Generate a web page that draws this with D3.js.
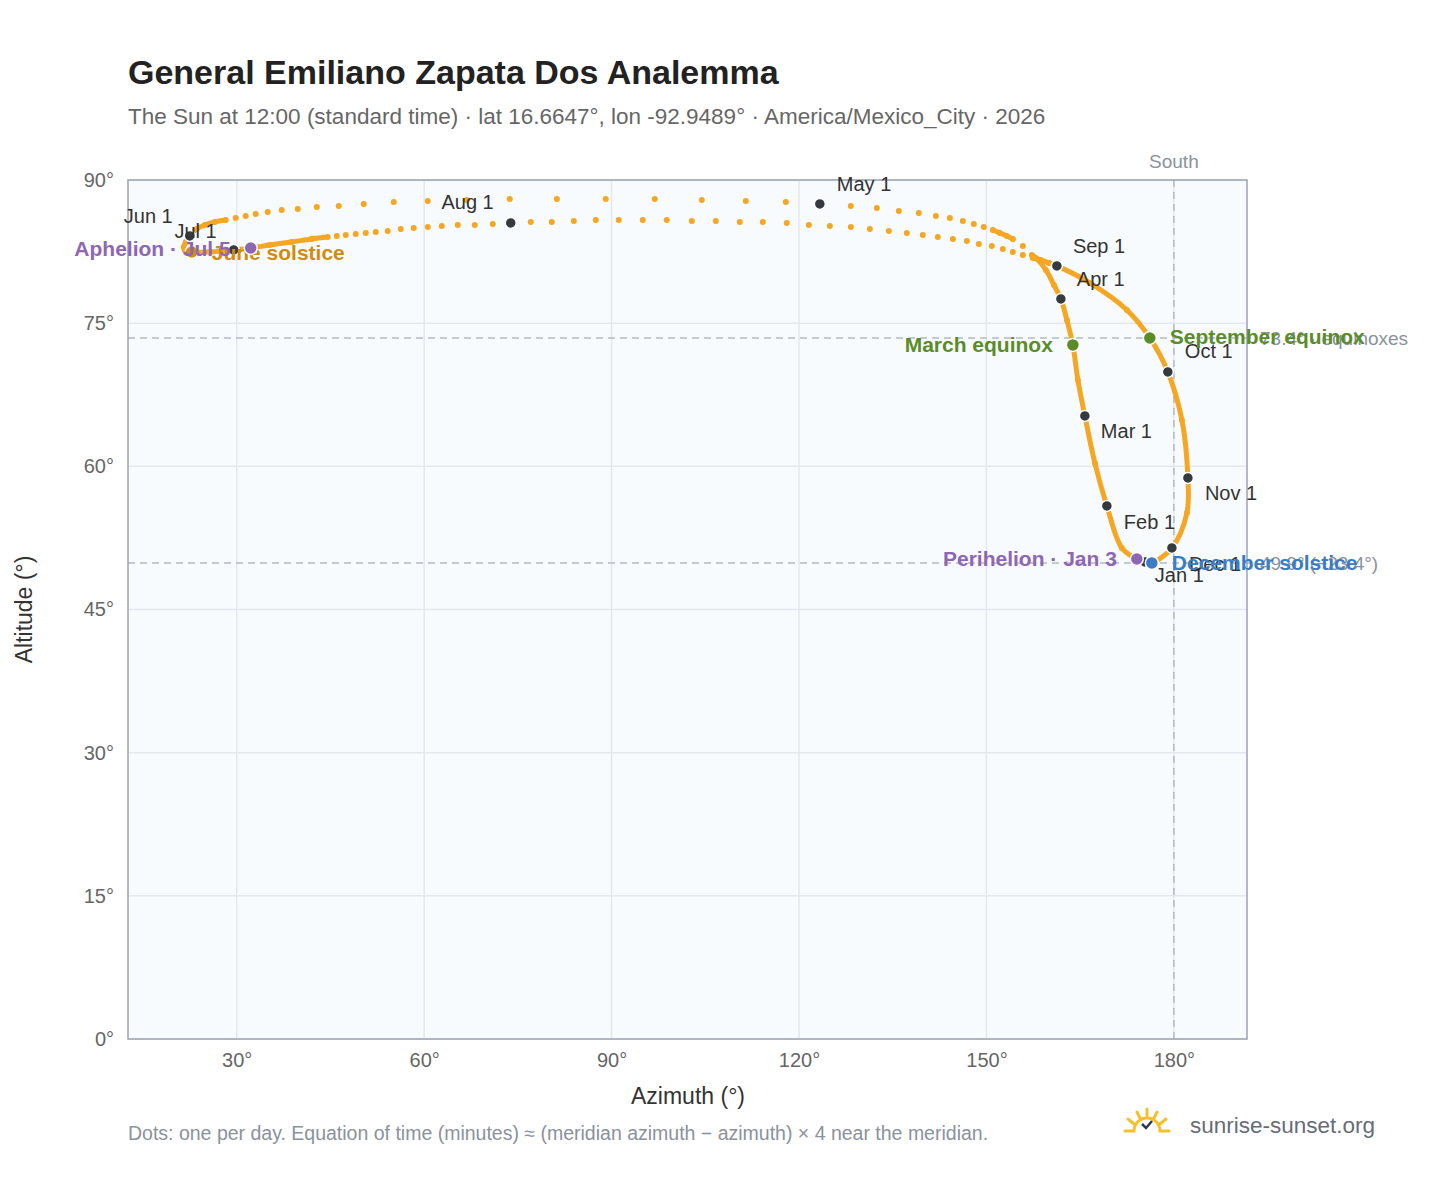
<!DOCTYPE html>
<html>
<head>
<meta charset="utf-8">
<script src="https://cdn.jsdelivr.net/npm/d3@7"></script>
<style>
  body { margin: 0; background: #fff; font-family: "Liberation Sans", Arial, sans-serif; }
</style>
</head>
<body>
<svg id="chart" width="1448" height="1188"></svg>
<script>
// Sun position at 12:00 standard time (month, day, azimuth°, altitude°)
const days = [
  [1, 1, 175.35, 49.98], [1, 3, 174.07, 50.29], [1, 10, 171.67, 51.45], [2, 1, 169.27, 55.85],
  [2, 14, 167.35, 60.35], [3, 1, 165.75, 65.28], [3, 12, 164.63, 69.05], [3, 20, 163.83, 72.72],
  [3, 26, 162.87, 75.34], [4, 1, 161.91, 77.54], [4, 5, 160.79, 79.0], [4, 9, 159.51, 80.58],
  [4, 13, 157.91, 81.83], [4, 14, 157.26, 82.15], [4, 15, 155.82, 83.09], [4, 16, 154.22, 83.82],
  [4, 17, 153.26, 84.14], [4, 18, 152.14, 84.45], [4, 19, 151.02, 84.77], [4, 20, 149.58, 85.08],
  [4, 21, 147.98, 85.4], [4, 22, 146.22, 85.71], [4, 23, 144.14, 86.02], [4, 24, 141.9, 86.23],
  [4, 25, 139.17, 86.55], [4, 26, 135.97, 86.76], [4, 27, 132.45, 87.07], [4, 28, 128.29, 87.28],
  [5, 1, 123.33, 87.49], [5, 2, 117.89, 87.7], [5, 3, 111.48, 87.8], [5, 4, 104.44, 87.91],
  [5, 5, 96.91, 88.01], [5, 6, 89.07, 88.01], [5, 7, 81.23, 88.01], [5, 8, 73.7, 88.01],
  [5, 9, 66.82, 87.91], [5, 10, 60.58, 87.8], [5, 11, 55.13, 87.7], [5, 12, 50.33, 87.49],
  [5, 13, 46.33, 87.28], [5, 14, 42.81, 87.18], [5, 15, 39.77, 86.97], [5, 16, 37.2, 86.86],
  [5, 17, 34.96, 86.65], [5, 18, 33.04, 86.44], [5, 19, 31.44, 86.23], [5, 20, 29.84, 86.02],
  [5, 21, 28.24, 85.81], [5, 23, 26.48, 85.61], [5, 25, 24.88, 85.29], [5, 28, 23.6, 84.87],
  [6, 1, 22.48, 84.14], [6, 6, 21.84, 83.51], [6, 11, 21.52, 82.99], [6, 16, 21.68, 82.67],
  [6, 21, 22.8, 82.46], [6, 26, 25.68, 82.46], [7, 1, 29.52, 82.67], [7, 5, 32.24, 82.88],
  [7, 8, 35.28, 83.19], [7, 11, 38.8, 83.51], [7, 14, 42.01, 83.82], [7, 17, 44.57, 84.03],
  [7, 18, 46.01, 84.14], [7, 19, 47.45, 84.24], [7, 20, 49.05, 84.35], [7, 21, 50.65, 84.45],
  [7, 22, 52.25, 84.56], [7, 23, 54.17, 84.66], [7, 24, 56.25, 84.87], [7, 25, 58.33, 84.98],
  [7, 26, 60.58, 85.08], [7, 27, 62.82, 85.19], [7, 28, 65.38, 85.29], [7, 29, 68.1, 85.29],
  [7, 30, 70.98, 85.4], [8, 1, 73.86, 85.5], [8, 2, 77.06, 85.61], [8, 3, 80.42, 85.61],
  [8, 4, 83.95, 85.71], [8, 5, 87.47, 85.81], [8, 6, 91.15, 85.81], [8, 7, 94.99, 85.81],
  [8, 8, 98.83, 85.81], [8, 9, 102.84, 85.71], [8, 10, 106.68, 85.71], [8, 11, 110.52, 85.61],
  [8, 12, 114.2, 85.61], [8, 13, 118.04, 85.5], [8, 14, 121.57, 85.29], [8, 15, 124.93, 85.19],
  [8, 16, 128.29, 85.08], [8, 17, 131.33, 84.87], [8, 18, 134.37, 84.66], [8, 19, 137.25, 84.45],
  [8, 20, 139.81, 84.24], [8, 21, 142.21, 84.03], [8, 22, 144.62, 83.82], [8, 23, 146.86, 83.61],
  [8, 24, 148.78, 83.3], [8, 25, 150.86, 83.09], [8, 26, 152.62, 82.78], [8, 27, 154.22, 82.46],
  [8, 28, 155.82, 82.15], [8, 29, 157.42, 81.83], [8, 30, 158.7, 81.62], [8, 31, 159.98, 81.31],
  [9, 1, 161.27, 81.0], [9, 10, 166.55, 79.21], [9, 16, 172.47, 76.38], [9, 22, 176.15, 73.45],
  [10, 1, 179.03, 69.89], [10, 15, 181.28, 64.86], [11, 1, 182.24, 58.78], [11, 15, 182.08, 55.11],
  [12, 1, 179.68, 51.45], [12, 21, 176.47, 49.88], [12, 31, 175.6, 49.95]
];

const monthNames = ["Jan", "Feb", "Mar", "Apr", "May", "Jun", "Jul", "Aug", "Sep", "Oct", "Nov", "Dec"];
const xTicks = [30, 60, 90, 120, 150, 180];
const yTicks = [0, 15, 30, 45, 60, 75, 90];

// special events: [label, month, day, colour]
const events = [
  ["March equinox", 3, 20, "#5b8c2a"],
  ["September equinox", 9, 22, "#5b8c2a"],
  ["June solstice", 6, 21, "#d08c0c"],
  ["December solstice", 12, 21, "#3a7dc4"],
  ["Perihelion · Jan 3", 1, 3, "#8e66b3"],
  ["Aphelion · Jul 5", 7, 5, "#8e66b3"]
];
const refLines = [[73.45, "73.4° · equinoxes"], [49.88, "49.9° (−23.4°)"]];

const svg = d3.select("#chart");
const m = { left: 128, right: 1247, top: 180, bottom: 1039 };
const x = d3.scaleLinear().domain([12.6, 191.7]).range([m.left, m.right]);
const y = d3.scaleLinear().domain([0, 90]).range([m.bottom, m.top]);
const doy = (mo, dy) => d3.timeDay.count(new Date(2026, 0, 1), new Date(2026, mo - 1, dy));
const pts = days.map(d => ({ month: d[0], day: d[1], az: d[2], alt: d[3], n: doy(d[0], d[1]) }));
const find = (mo, dy) => pts.find(p => p.month === mo && p.day === dy);

svg.append("text").attr("x", 128).attr("y", 84)
  .style("font-size", "34px").style("font-weight", "bold").attr("fill", "#222")
  .text("General Emiliano Zapata Dos Analemma");
svg.append("text").attr("x", 128).attr("y", 124)
  .style("font-size", "22.5px").attr("fill", "#666")
  .text("The Sun at 12:00 (standard time) · lat 16.6647°, lon -92.9489° · America/Mexico_City · 2026");

svg.append("rect").attr("x", m.left).attr("y", m.top)
  .attr("width", m.right - m.left).attr("height", m.bottom - m.top)
  .attr("fill", "#f8fbfe");

// grid
svg.append("g").selectAll("line").data(xTicks).join("line")
  .attr("x1", d => x(d)).attr("x2", d => x(d)).attr("y1", m.top).attr("y2", m.bottom)
  .attr("stroke", "#e4e8ee").attr("stroke-width", 1.5);
svg.append("g").selectAll("line").data(yTicks).join("line")
  .attr("x1", m.left).attr("x2", m.right).attr("y1", d => y(d)).attr("y2", d => y(d))
  .attr("stroke", "#e4e8ee").attr("stroke-width", 1.5);

// axes
const xAxis = svg.append("g").attr("transform", `translate(0,${m.bottom})`)
  .call(d3.axisBottom(x).tickValues(xTicks).tickFormat(d => d + "°").tickSize(0).tickPadding(14));
const yAxis = svg.append("g").attr("transform", `translate(${m.left},0)`)
  .call(d3.axisLeft(y).tickValues(yTicks).tickFormat(d => d + "°").tickSize(0).tickPadding(14));
[xAxis, yAxis].forEach(a => {
  a.select(".domain").remove();
  a.selectAll("text").style("font-size", "20px").attr("fill", "#666").style("font-family", "Liberation Sans, Arial, sans-serif");
});

svg.append("text").attr("x", 688).attr("y", 1104).attr("text-anchor", "middle")
  .style("font-size", "23px").attr("fill", "#333").text("Azimuth (°)");
svg.append("text").attr("transform", `translate(32,${(m.top + m.bottom) / 2}) rotate(-90)`)
  .attr("text-anchor", "middle").style("font-size", "23px").attr("fill", "#333").text("Altitude (°)");

// south line
svg.append("line").attr("x1", x(180)).attr("x2", x(180)).attr("y1", m.top).attr("y2", m.bottom)
  .attr("stroke", "#b3bac4").attr("stroke-width", 1.5).attr("stroke-dasharray", "7,5");
svg.append("text").attr("x", x(180)).attr("y", 168).attr("text-anchor", "middle")
  .style("font-size", "19px").attr("fill", "#8a929c").text("South");

// reference altitude lines
refLines.forEach(([alt, label]) => {
  svg.append("line").attr("x1", m.left).attr("x2", 1256).attr("y1", y(alt)).attr("y2", y(alt))
    .attr("stroke", "#b3bac4").attr("stroke-width", 1.5).attr("stroke-dasharray", "7,5");
  svg.append("text").attr("x", 1260).attr("y", y(alt) + 7)
    .style("font-size", "19px").attr("fill", "#8a929c").text(label);
});

svg.append("rect").attr("x", m.left).attr("y", m.top)
  .attr("width", m.right - m.left).attr("height", m.bottom - m.top)
  .attr("fill", "none").attr("stroke", "#9aa4b1").attr("stroke-width", 1.5);

// analemma: a thick curve where the daily dots crowd together, plus a dot per listed day
const loop = pts.concat([{ ...pts[0], n: pts[0].n + 365 }]);
const runs = [];
let run = [loop[0]];
for (let i = 1; i < loop.length; i++) {
  const a = loop[i - 1], b = loop[i];
  const perDay = Math.hypot(x(a.az) - x(b.az), y(a.alt) - y(b.alt)) / (b.n - a.n);
  if (perDay < 9) run.push(b);
  else { if (run.length > 1) runs.push(run); run = [b]; }
}
if (run.length > 1) runs.push(run);
const curve = d3.line().x(p => x(p.az)).y(p => y(p.alt)).curve(d3.curveCatmullRom);
svg.append("g").selectAll("path").data(runs).join("path")
  .attr("d", curve).attr("fill", "none").attr("stroke", "#f5a623")
  .attr("stroke-width", 5).attr("stroke-linecap", "round");
svg.append("g").selectAll("circle").data(pts).join("circle")
  .attr("cx", p => x(p.az)).attr("cy", p => y(p.alt)).attr("r", 3)
  .attr("fill", "#f5a623");

// month markers
const monthLabel = { 1: [10, 15, "start"], 2: [17, 18, "start"], 3: [16, 17, "start"], 4: [16, -18, "start"],
  5: [17, -18, "start"], 6: [-17, -18, "end"], 7: [-17, -17, "end"], 8: [-17, -19, "end"],
  9: [16, -18, "start"], 10: [17, -19, "start"], 11: [17, 17, "start"], 12: [17, 18, "start"] };
const firsts = pts.filter(p => p.day === 1);
svg.append("g").selectAll("circle").data(firsts).join("circle")
  .attr("cx", p => x(p.az)).attr("cy", p => y(p.alt)).attr("r", 5.5)
  .attr("fill", "#343a40").attr("stroke", "#fff").attr("stroke-width", 1.5);
svg.append("g").selectAll("text").data(firsts).join("text")
  .attr("x", p => x(p.az) + monthLabel[p.month][0])
  .attr("y", p => y(p.alt) + monthLabel[p.month][1])
  .attr("text-anchor", p => monthLabel[p.month][2]).attr("dominant-baseline", "middle")
  .style("font-size", "20px").attr("fill", "#333")
  .text(p => monthNames[p.month - 1] + " 1");

// events
const evPlace = { "March equinox": [-20, 2, "end"], "September equinox": [20, 0, "start"],
  "June solstice": [20, 2, "start"], "December solstice": [20, 2, "start"],
  "Perihelion · Jan 3": [-20, 1, "end"], "Aphelion · Jul 5": [-20, 2, "end"] };
events.forEach(([label, mo, dy, col]) => {
  const p = find(mo, dy);
  svg.append("circle").attr("cx", x(p.az)).attr("cy", y(p.alt)).attr("r", 6.5)
    .attr("fill", col).attr("stroke", "#fff").attr("stroke-width", 1.5);
  const o = evPlace[label];
  svg.append("text").attr("x", x(p.az) + o[0]).attr("y", y(p.alt) + o[1])
    .attr("text-anchor", o[2]).attr("dominant-baseline", "middle")
    .style("font-size", "21px").style("font-weight", "bold").attr("fill", col).text(label);
});

// footer
svg.append("text").attr("x", 128).attr("y", 1140).style("font-size", "19.5px").attr("fill", "#8a929c")
  .text("Dots: one per day. Equation of time (minutes) ≈ (meridian azimuth − azimuth) × 4 near the meridian.");
const logo = svg.append("g").attr("transform", "translate(1147,1131)").attr("fill", "none")
  .attr("stroke", "#f5c02a").attr("stroke-width", 3).attr("stroke-linecap", "round");
logo.append("path").attr("d", "M-22,0 H-13 A13,13 0 0 1 13,0 H22");
[[-19, -12, -13, -7], [0, -22, 0, -15], [19, -12, 13, -7], [-10, -19, -7, -13], [10, -19, 7, -13]]
  .forEach(s => logo.append("line").attr("x1", s[0]).attr("y1", s[1]).attr("x2", s[2]).attr("y2", s[3]));
svg.append("path").attr("d", "M1142,1124 l4,4 l6,-7").attr("fill", "none")
  .attr("stroke", "#2e3a4f").attr("stroke-width", 2.5);
svg.append("text").attr("x", 1190).attr("y", 1133).style("font-size", "22.5px").attr("fill", "#666c78")
  .text("sunrise-sunset.org");
</script>
</body>
</html>
